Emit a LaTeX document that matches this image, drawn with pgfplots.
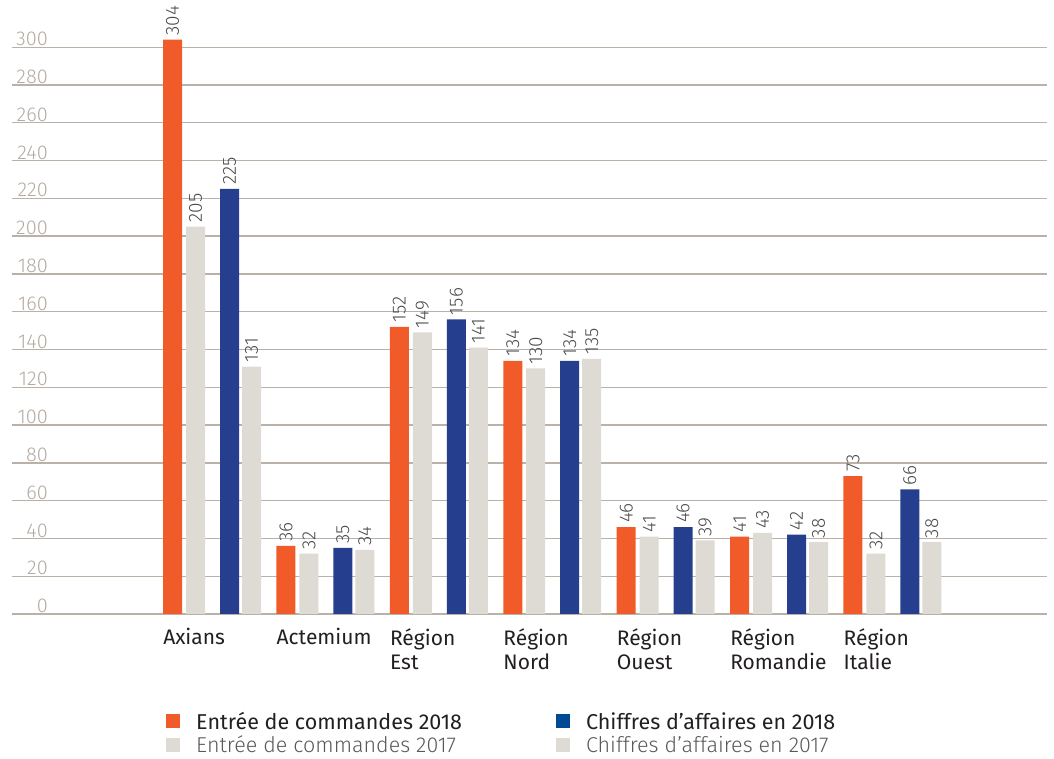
\documentclass[border=0pt]{standalone}
\usepackage{fontspec}
\setmainfont{Fira Sans}
\newfontfamily\lightfont{Fira Sans Light}
\usepackage{pgfplots}
\pgfplotsset{compat=1.18}
\definecolor{vorange}{HTML}{F15A29}
\definecolor{vblue}{HTML}{253F8E}
\definecolor{legblue}{HTML}{004A93}
\definecolor{vgray}{HTML}{DEDAD4}
\definecolor{gridc}{HTML}{BAB1A8}
\definecolor{tickc}{HTML}{B3AAA1}
\definecolor{valc}{HTML}{4A4A4A}
\definecolor{textc}{HTML}{231F20}
\definecolor{text2c}{HTML}{58595B}

\begin{document}
\begin{tikzpicture}
\begin{axis}[
    scale only axis,
    width=1035pt, height=614pt,
    xmin=-1.764, xmax=7.363,
    ymin=0, ymax=325,
    clip=false,
    axis line style={draw=none},
    tick style={draw=none},
    major tick length=0pt,
    ymajorgrids,
    grid style={draw=gridc, line width=1.4pt},
    ytick={0,20,...,300},
    /pgf/number format/assume math mode=true,
    yticklabel style={anchor=south east, font=\lightfont\fontsize{20}{20}\selectfont,
        text=tickc, inner sep=0pt, xshift=36pt, yshift=1pt},
    xtick={-0.432,0.568,1.568,2.568,3.568,4.568,5.568},
    xticklabels={Axians, Actemium, {Région\\Est}, {Région\\Nord},
        {Région\\Ouest}, {Région\\Romandie}, {Région\\Italie}},
    xticklabel style={anchor=north west, align=left,
        font=\fontsize{21}{24}\selectfont, text=textc, inner sep=0pt, yshift=-14pt},
    ybar,
    bar width=0.1675,
    nodes near coords,
    every node near coord/.append style={rotate=90, anchor=west,
        font=\lightfont\fontsize{19}{19}\selectfont, text=valc, inner sep=4pt},
    legend columns=2,
    legend cell align=left,
    legend image code/.code={\fill[#1] (0pt,-7pt) rectangle (14pt,7pt);},
    legend style={at={(0.1459,-0.153)}, anchor=north west, draw=none, fill=none,
        font=\fontsize{21.5}{21.5}\selectfont, row sep=1pt,
        /tikz/every odd column/.append style={column sep=14pt},
        /tikz/every even column/.append style={column sep=92pt}},
]

% Entrée de commandes 2018
\addplot[fill=vorange, draw=none, bar shift=-0.348, forget plot] coordinates {
    (0,304) (1,36) (2,152) (3,134) (4,46) (5,41) (6,73)
};
% Entrée de commandes 2017
\addplot[fill=vgray, draw=none, bar shift=-0.1455, forget plot] coordinates {
    (0,205) (1,32) (2,149) (3,130) (4,41) (5,43) (6,32)
};
% Chiffres d'affaires 2018
\addplot[fill=vblue, draw=none, bar shift=0.154, forget plot] coordinates {
    (0,225) (1,35) (2,156) (3,134) (4,46) (5,42) (6,66)
};
% Chiffres d'affaires 2017
\addplot[fill=vgray, draw=none, bar shift=0.348, forget plot] coordinates {
    (0,131) (1,34) (2,141) (3,135) (4,39) (5,38) (6,38)
};

\addlegendimage{fill=vorange, draw=none}
\addlegendentry{\textcolor{textc}{Entrée de commandes 2018}}
\addlegendimage{fill=legblue, draw=none}
\addlegendentry{\textcolor{textc}{Chiffres d’affaires en 2018}}
\addlegendimage{fill=vgray, draw=none}
\addlegendentry{\textcolor{text2c}{\lightfont Entrée de commandes 2017}}
\addlegendimage{fill=vgray, draw=none}
\addlegendentry{\textcolor{text2c}{\lightfont Chiffres d’affaires en 2017}}

% extend the picture to the reference's frame
\path (rel axis cs:0,0) ++(-12pt,-144pt);
\path (rel axis cs:1,1) ++(7pt,0pt);
\end{axis}
\end{tikzpicture}
\end{document}
